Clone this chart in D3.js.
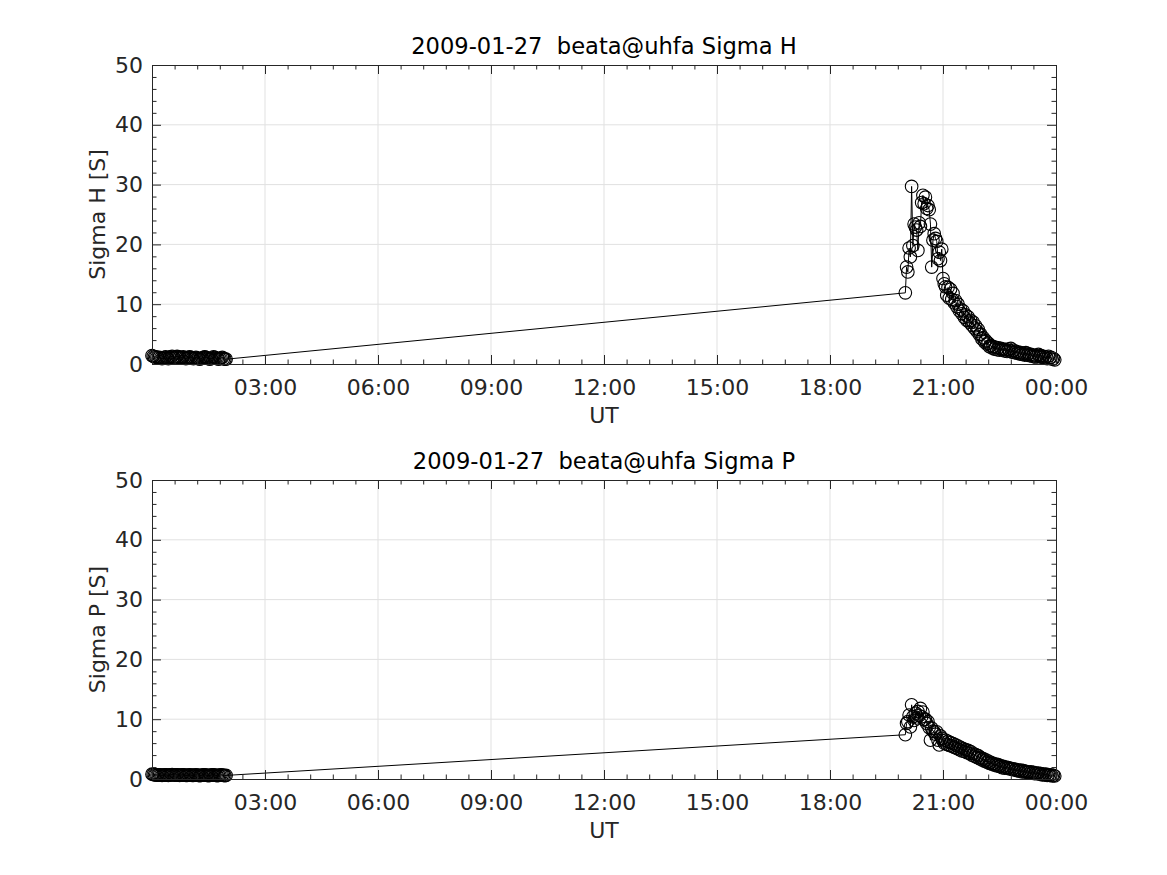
<!DOCTYPE html>
<html>
<head>
<meta charset="utf-8">
<script src="https://cdn.jsdelivr.net/npm/d3@7"></script>
<style>
  body { margin: 0; background: #fff; }
  text { font-family: "DejaVu Sans", sans-serif; }
</style>
</head>
<body>
<svg id="fig" width="1167" height="875"></svg>
<script>
// sample times, minutes after 00:00 UT
const timeMin = [
  0, 2, 4, 6, 8, 10, 12, 14, 16, 18, 20, 22, 24, 26, 28, 30, 32, 34, 36, 38,
  40, 42, 44, 46, 48, 50, 52, 54, 56, 58, 60, 62, 64, 66, 68, 70, 72, 74, 76, 78,
  80, 82, 84, 86, 88, 90, 92, 94, 96, 98, 100, 102, 104, 106, 108, 110, 112, 114, 116, 118,
  1200, 1202, 1204, 1206, 1208, 1210, 1212, 1214, 1216, 1218, 1220, 1222, 1224, 1226, 1228, 1230, 1232, 1234, 1236, 1238,
  1240, 1242, 1244, 1246, 1248, 1250, 1252, 1254, 1256, 1258, 1260, 1262, 1264, 1266, 1268, 1270, 1272, 1274, 1276, 1278,
  1280, 1282, 1284, 1286, 1288, 1290, 1292, 1294, 1296, 1298, 1300, 1302, 1304, 1306, 1308, 1310, 1312, 1314, 1316, 1318,
  1320, 1322, 1324, 1326, 1328, 1330, 1332, 1334, 1336, 1338, 1340, 1342, 1344, 1346, 1348, 1350, 1352, 1354, 1356, 1358,
  1360, 1362, 1364, 1366, 1368, 1370, 1372, 1374, 1376, 1378, 1380, 1382, 1384, 1386, 1388, 1390, 1392, 1394, 1396, 1398,
  1400, 1402, 1404, 1406, 1408, 1410, 1412, 1414, 1416, 1418, 1420, 1422, 1424, 1426, 1428, 1430, 1432, 1434, 1436, 1438
]

const sigmaH = [
  1.4, 1.3, 1.2, 1.2, 1.1, 1.0, 1.1, 1.0, 0.9, 1.0,
  1.1, 1.2, 1.0, 0.9, 1.1, 1.2, 1.3, 1.1, 1.0, 1.2,
  1.3, 1.2, 1.1, 1.0, 1.1, 1.2, 1.0, 0.9, 1.0, 1.1,
  1.2, 1.1, 1.0, 0.9, 1.0, 1.1, 1.0, 0.9, 0.8, 0.9,
  1.0, 1.1, 1.2, 1.1, 1.0, 0.9, 0.8, 0.9, 1.0, 1.2,
  1.1, 1.0, 0.9, 0.8, 0.9, 1.0, 1.1, 0.9, 0.8, 0.8,
  11.9, 16.2, 15.4, 19.4, 17.9, 29.7, 19.8, 23.4, 22.9, 22.4,
  19.0, 23.6, 23.0, 27.0, 28.2, 26.8, 27.9, 26.0, 26.5, 25.8,
  23.4, 16.2, 20.7, 21.8, 21.0, 20.5, 17.6, 18.7, 17.3, 19.2,
  14.3, 13.4, 12.9, 11.5, 12.8, 11.0, 12.5, 10.8, 11.8, 10.2,
  10.6, 9.6, 10.0, 8.9, 9.2, 8.4, 8.9, 7.8, 8.2, 7.3,
  7.9, 7.0, 7.3, 6.5, 7.0, 6.0, 6.4, 5.5, 5.8, 4.9,
  5.0, 4.2, 4.4, 3.7, 3.9, 3.3, 3.5, 2.9, 3.1, 2.7,
  2.9, 2.5, 2.8, 2.4, 2.7, 2.3, 2.6, 2.4, 2.5, 2.2,
  2.4, 2.1, 2.5, 2.2, 2.6, 2.0, 2.3, 1.9, 2.1, 1.8,
  2.0, 1.7, 1.9, 1.6, 1.8, 1.5, 1.9, 1.5, 1.7, 1.4,
  1.6, 1.3, 1.5, 1.2, 1.4, 1.2, 1.6, 1.3, 1.4, 1.1,
  1.3, 1.0, 1.2, 0.9, 1.3, 1.0, 1.1, 0.8, 0.9, 0.7
]

const sigmaP = [
  0.8, 0.75, 0.7, 0.7, 0.65, 0.7, 0.7, 0.65, 0.6, 0.65,
  0.7, 0.7, 0.65, 0.6, 0.65, 0.7, 0.75, 0.7, 0.65, 0.7,
  0.7, 0.65, 0.6, 0.65, 0.7, 0.7, 0.65, 0.6, 0.6, 0.65,
  0.7, 0.65, 0.6, 0.6, 0.65, 0.7, 0.65, 0.6, 0.55, 0.6,
  0.65, 0.7, 0.7, 0.65, 0.6, 0.55, 0.6, 0.65, 0.7, 0.7,
  0.65, 0.6, 0.55, 0.6, 0.65, 0.7, 0.65, 0.6, 0.55, 0.6,
  7.4, 9.3, 9.6, 10.7, 8.7, 12.4, 10.4, 9.8, 11.0, 10.2,
  11.3, 10.6, 11.8, 10.4, 11.2, 9.9, 10.0, 9.3, 9.6, 8.6,
  6.5, 8.5, 8.0, 7.9, 7.5, 7.9, 6.5, 5.7, 7.2, 6.8,
  6.4, 6.0, 6.5, 5.8, 6.3, 5.6, 6.1, 5.5, 5.9, 5.3,
  5.7, 5.1, 5.5, 4.9, 5.3, 4.7, 5.1, 4.6, 4.9, 4.4,
  4.8, 4.3, 4.6, 4.0, 4.3, 3.8, 4.1, 3.6, 3.9, 3.4,
  3.6, 3.2, 3.4, 3.0, 3.2, 2.8, 3.0, 2.6, 2.8, 2.5,
  2.6, 2.3, 2.5, 2.2, 2.4, 2.1, 2.2, 1.9, 2.1, 1.8,
  2.0, 1.8, 1.9, 1.7, 1.8, 1.6, 1.7, 1.5, 1.6, 1.4,
  1.5, 1.3, 1.5, 1.2, 1.4, 1.2, 1.3, 1.1, 1.2, 1.0,
  1.2, 1.0, 1.1, 0.9, 1.0, 0.9, 1.0, 0.8, 0.9, 0.7,
  0.8, 0.7, 0.8, 0.6, 0.7, 0.6, 0.7, 0.5, 0.6, 0.5
]

const xTickMin = [180, 360, 540, 720, 900, 1080, 1260, 1440]
const xTickLabels = ["03:00", "06:00", "09:00", "12:00", "15:00", "18:00", "21:00", "00:00"]
const yTicks = [0, 10, 20, 30, 40, 50]
const panelTitles = ["2009-01-27  beata@uhfa Sigma H", "2009-01-27  beata@uhfa Sigma P"]
const panelYLabels = ["Sigma H [S]", "Sigma P [S]"]

const LEFT = 152, RIGHT = 1056
const PANELS = [
  { top: 65, bottom: 364, values: sigmaH },
  { top: 480, bottom: 779, values: sigmaP }
]
const AXIS_COLOR = '#262626'
const GRID_COLOR = '#e1e1e1'
const FONT = 22

const svg = d3.select('#fig')

const xScale = d3.scaleLinear().domain([0, 1440]).range([LEFT, RIGHT])
const xMinor = d3.range(0, 1441, 36).filter(m => m % 180 !== 0)
const yMinor = d3.range(0, 51, 2).filter(v => v % 10 !== 0)

PANELS.forEach((p, i) => {
  const yScale = d3.scaleLinear().domain([0, 50]).range([p.bottom, p.top])
  const g = svg.append('g')

  // grid lines
  g.append('g').selectAll('line')
    .data(xTickMin.filter(m => m < 1440))
    .enter().append('line')
    .attr('x1', d => xScale(d)).attr('x2', d => xScale(d))
    .attr('y1', p.top).attr('y2', p.bottom)
    .attr('stroke', GRID_COLOR)
  g.append('g').selectAll('line')
    .data(yTicks.filter(v => v > 0 && v < 50))
    .enter().append('line')
    .attr('x1', LEFT).attr('x2', RIGHT)
    .attr('y1', d => yScale(d)).attr('y2', d => yScale(d))
    .attr('stroke', GRID_COLOR)

  // data line + circle markers
  const pts = timeMin.map((t, k) => ({ t: t, v: p.values[k] }))
  const line = d3.line()
    .x(d => xScale(d.t))
    .y(d => yScale(d.v))
  g.append('path')
    .attr('d', line(pts))
    .attr('fill', 'none')
    .attr('stroke', '#000')
    .attr('stroke-width', 1)
  g.append('g').selectAll('circle')
    .data(pts)
    .enter().append('circle')
    .attr('cx', d => xScale(d.t))
    .attr('cy', d => yScale(d.v))
    .attr('r', 6.3)
    .attr('fill', 'none')
    .attr('stroke', '#000')
    .attr('stroke-width', 1.1)

  // axes (ticks pointing inward, box on all sides)
  const styleAxis = sel => {
    sel.selectAll('path').attr('stroke', AXIS_COLOR)
    sel.selectAll('line').attr('stroke', AXIS_COLOR)
    sel.selectAll('text')
      .attr('fill', AXIS_COLOR)
      .style('font-size', FONT + 'px')
      .style('font-family', '"DejaVu Sans", sans-serif')
  }

  g.append('g')
    .attr('transform', `translate(0, ${p.bottom})`)
    .call(d3.axisBottom(xScale).tickValues(xTickMin)
      .tickFormat((d, k) => xTickLabels[k])
      .tickSize(-9).tickSizeOuter(0).tickPadding(15))
    .call(styleAxis)
  g.append('g')
    .attr('transform', `translate(0, ${p.bottom})`)
    .call(d3.axisBottom(xScale).tickValues(xMinor).tickFormat('').tickSize(-4.5).tickSizeOuter(0))
    .call(styleAxis)
  g.append('g')
    .attr('transform', `translate(0, ${p.top})`)
    .call(d3.axisTop(xScale).tickValues(xTickMin).tickFormat('').tickSize(-9).tickSizeOuter(0))
    .call(styleAxis)
  g.append('g')
    .attr('transform', `translate(0, ${p.top})`)
    .call(d3.axisTop(xScale).tickValues(xMinor).tickFormat('').tickSize(-4.5).tickSizeOuter(0))
    .call(styleAxis)

  g.append('g')
    .attr('transform', `translate(${LEFT}, 0)`)
    .call(d3.axisLeft(yScale).tickValues(yTicks).tickSize(-9).tickSizeOuter(0).tickPadding(9))
    .call(styleAxis)
  g.append('g')
    .attr('transform', `translate(${LEFT}, 0)`)
    .call(d3.axisLeft(yScale).tickValues(yMinor).tickFormat('').tickSize(-4.5).tickSizeOuter(0))
    .call(styleAxis)
  g.append('g')
    .attr('transform', `translate(${RIGHT}, 0)`)
    .call(d3.axisRight(yScale).tickValues(yTicks).tickFormat('').tickSize(-9).tickSizeOuter(0))
    .call(styleAxis)
  g.append('g')
    .attr('transform', `translate(${RIGHT}, 0)`)
    .call(d3.axisRight(yScale).tickValues(yMinor).tickFormat('').tickSize(-4.5).tickSizeOuter(0))
    .call(styleAxis)

  // title
  g.append('text')
    .attr('x', (LEFT + RIGHT) / 2)
    .attr('y', p.top - 11)
    .attr('text-anchor', 'middle')
    .style('white-space', 'pre')
    .style('font-size', '22.6px')
    .attr('fill', '#000')
    .text(panelTitles[i])

  // x label
  g.append('text')
    .attr('x', (LEFT + RIGHT) / 2)
    .attr('y', p.bottom + 59)
    .attr('text-anchor', 'middle')
    .style('font-size', FONT + 'px')
    .attr('fill', AXIS_COLOR)
    .text('UT')

  // y label
  g.append('text')
    .attr('transform', 'rotate(-90)')
    .attr('x', -(p.top + p.bottom) / 2)
    .attr('y', 105)
    .attr('text-anchor', 'middle')
    .style('font-size', FONT + 'px')
    .attr('fill', AXIS_COLOR)
    .text(panelYLabels[i])
})
</script>
</body>
</html>
